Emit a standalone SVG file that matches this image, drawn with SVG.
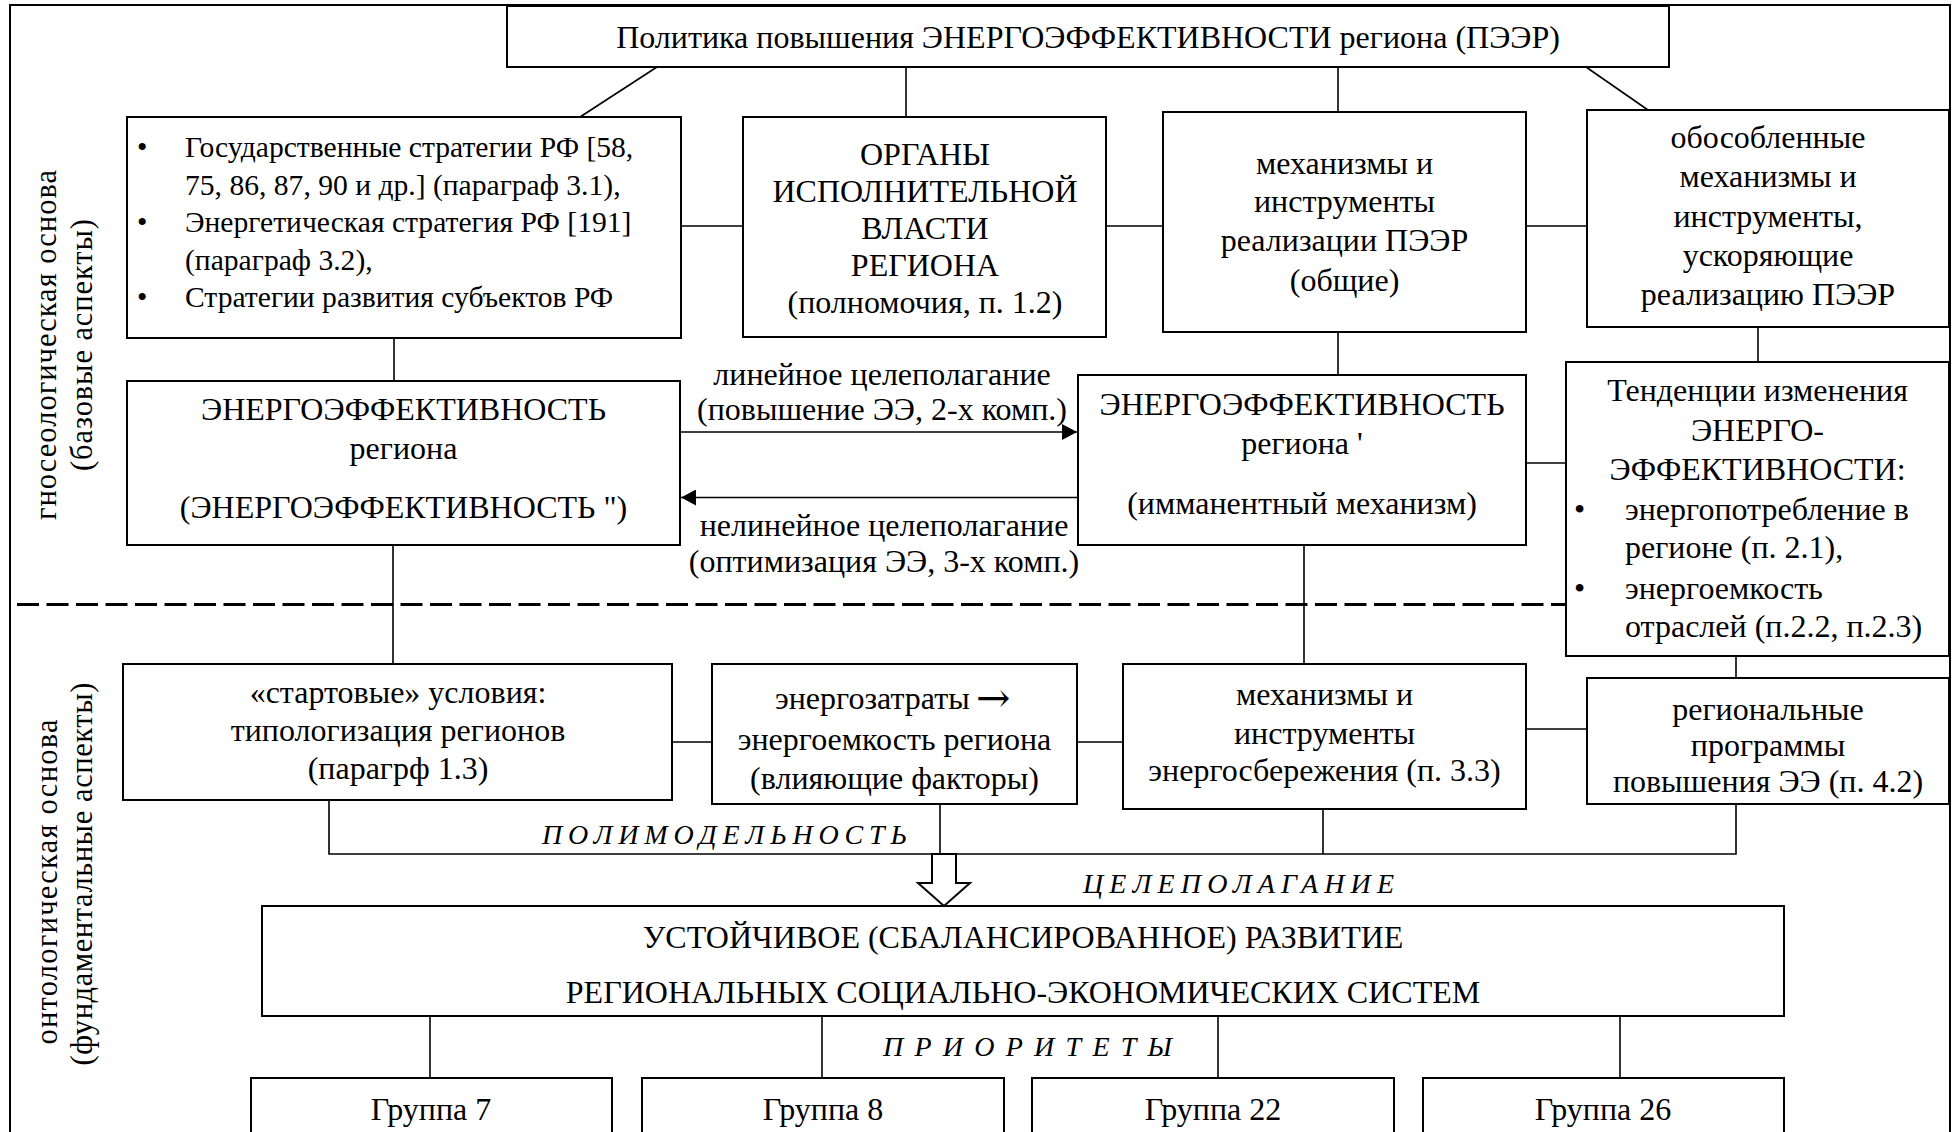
<svg xmlns="http://www.w3.org/2000/svg" width="1955" height="1132" viewBox="0 0 1955 1132">
<defs>
<style>
.b{fill:#fff;stroke:#000;stroke-width:2}
.c{stroke:#000;stroke-width:1.6;fill:none}
.t{font-family:"Liberation Serif","Times New Roman",serif;font-size:32px;fill:#000}
.s{font-size:29.6px}
.m{text-anchor:middle}
.i{font-style:italic;font-size:28px}
.r{font-size:30.5px}
.a{font-family:"DejaVu Serif","Liberation Serif",serif;font-size:41px;fill:#000}
</style>
<marker id="ah" markerUnits="userSpaceOnUse" markerWidth="16" markerHeight="16" refX="15" refY="8" orient="auto">
<path d="M0,0 L15,8 L0,16 z" fill="#000"/>
</marker>
</defs>
<rect x="0" y="0" width="1955" height="1132" fill="#fff"/>
<rect id="frame" x="10" y="5" width="1940" height="1160" fill="none" stroke="#000" stroke-width="2"/>

<g id="connectors">
<line class="c" x1="657" y1="67" x2="580" y2="117"/>
<line class="c" x1="906" y1="67" x2="906" y2="117"/>
<line class="c" x1="1338" y1="67" x2="1338" y2="112"/>
<line class="c" x1="1586" y1="67" x2="1648" y2="110"/>
<line class="c" x1="681" y1="226" x2="743" y2="226"/>
<line class="c" x1="1106" y1="226" x2="1163" y2="226"/>
<line class="c" x1="1526" y1="226" x2="1587" y2="226"/>
<line class="c" x1="394" y1="338" x2="394" y2="381"/>
<line class="c" x1="1338" y1="332" x2="1338" y2="375"/>
<line class="c" x1="1758" y1="327" x2="1758" y2="362"/>
<line class="c" x1="1526" y1="463" x2="1566" y2="463"/>
<line class="c" x1="680" y1="432" x2="1077" y2="432" marker-end="url(#ah)"/>
<line class="c" x1="1078" y1="497.5" x2="681" y2="497.5" marker-end="url(#ah)"/>
<line class="c" x1="393" y1="545" x2="393" y2="664"/>
<line class="c" x1="1304" y1="545" x2="1304" y2="664"/>
<line x1="17" y1="604.5" x2="1566" y2="604.5" stroke="#000" stroke-width="3" stroke-dasharray="22 7.5"/>
<line class="c" x1="672" y1="742" x2="712" y2="742"/>
<line class="c" x1="1077" y1="742" x2="1123" y2="742"/>
<line class="c" x1="1526" y1="729" x2="1587" y2="729"/>
<line class="c" x1="1736" y1="656" x2="1736" y2="678"/>
<polyline class="c" points="329,800 329,854 1736,854 1736,804"/>
<line class="c" x1="940" y1="804" x2="940" y2="854"/>
<line class="c" x1="1323" y1="809" x2="1323" y2="854"/>
<polygon points="932,854 956,854 956,883 970,883 944,906 918,883 932,883" fill="#fff" stroke="#000" stroke-width="2"/>
<line class="c" x1="430" y1="1016" x2="430" y2="1078"/>
<line class="c" x1="822" y1="1016" x2="822" y2="1078"/>
<line class="c" x1="1218" y1="1016" x2="1218" y2="1078"/>
<line class="c" x1="1620" y1="1016" x2="1620" y2="1078"/>
</g>

<g id="side-labels" class="t r m">
<text transform="translate(56,345) rotate(-90)" textLength="350" lengthAdjust="spacing">гносеологическая основа</text>
<text transform="translate(92,345) rotate(-90)" textLength="252" lengthAdjust="spacing">(базовые аспекты)</text>
<text transform="translate(57,882) rotate(-90)" textLength="325" lengthAdjust="spacing">онтологическая основа</text>
<text transform="translate(92,874) rotate(-90)" textLength="383" lengthAdjust="spacing">(фундаментальные аспекты)</text>
</g>

<g id="n-policy">
<rect class="b" x="507" y="6" width="1162" height="61"/>
<text class="t m" x="1088" y="48">Политика повышения ЭНЕРГОЭФФЕКТИВНОСТИ региона (ПЭЭР)</text>
</g>

<g id="n-strategies">
<rect class="b" x="127" y="117" width="554" height="221"/>
<g class="t s">
<text x="137" y="157">•</text>
<text x="185" y="157">Государственные стратегии РФ [58,</text>
<text x="185" y="194.5">75, 86, 87, 90 и др.] (параграф 3.1),</text>
<text x="137" y="232">•</text>
<text x="185" y="232">Энергетическая стратегия РФ [191]</text>
<text x="185" y="269.5">(параграф 3.2),</text>
<text x="137" y="307">•</text>
<text x="185" y="307">Стратегии развития субъектов РФ</text>
</g>
</g>

<g id="n-organs">
<rect class="b" x="743" y="117" width="363" height="220"/>
<g class="t m">
<text x="925" y="165">ОРГАНЫ</text>
<text x="925" y="201.5">ИСПОЛНИТЕЛЬНОЙ</text>
<text x="925" y="238.5">ВЛАСТИ</text>
<text x="925" y="276">РЕГИОНА</text>
<text x="925" y="313">(полномочия, п. 1.2)</text>
</g>
</g>

<g id="n-mech-general">
<rect class="b" x="1163" y="112" width="363" height="220"/>
<g class="t m">
<text x="1344.5" y="174">механизмы и</text>
<text x="1344.5" y="212">инструменты</text>
<text x="1344.5" y="251">реализации ПЭЭР</text>
<text x="1344.5" y="291">(общие)</text>
</g>
</g>

<g id="n-mech-separate">
<rect class="b" x="1587" y="110" width="362" height="217"/>
<g class="t m">
<text x="1768" y="148">обособленные</text>
<text x="1768" y="187">механизмы и</text>
<text x="1768" y="227">инструменты,</text>
<text x="1768" y="266">ускоряющие</text>
<text x="1768" y="305">реализацию ПЭЭР</text>
</g>
</g>

<g id="n-ee2">
<rect class="b" x="127" y="381" width="553" height="164"/>
<g class="t m">
<text x="403.5" y="420">ЭНЕРГОЭФФЕКТИВНОСТЬ</text>
<text x="403.5" y="459">региона</text>
<text x="403.5" y="518">(ЭНЕРГОЭФФЕКТИВНОСТЬ ")</text>
</g>
</g>

<g id="arrow-labels" class="t m">
<text x="882" y="385">линейное целеполагание</text>
<text x="882" y="420">(повышение ЭЭ, 2-х комп.)</text>
<text x="884" y="536">нелинейное целеполагание</text>
<text x="884" y="572">(оптимизация ЭЭ, 3-х комп.)</text>
</g>

<g id="n-ee1">
<rect class="b" x="1078" y="375" width="448" height="170"/>
<g class="t m">
<text x="1302" y="415">ЭНЕРГОЭФФЕКТИВНОСТЬ</text>
<text x="1302" y="454">региона '</text>
<text x="1302" y="514">(имманентный механизм)</text>
</g>
</g>

<g id="n-trends">
<rect class="b" x="1566" y="362" width="383" height="294"/>
<g class="t">
<text class="m" x="1757.5" y="401">Тенденции изменения</text>
<text class="m" x="1757.5" y="441">ЭНЕРГО-</text>
<text class="m" x="1757.5" y="480">ЭФФЕКТИВНОСТИ:</text>
<text x="1574" y="520">•</text>
<text x="1625" y="520">энергопотребление в</text>
<text x="1625" y="558">регионе (п. 2.1),</text>
<text x="1574" y="599">•</text>
<text x="1625" y="599">энергоемкость</text>
<text x="1625" y="637">отраслей (п.2.2, п.2.3)</text>
</g>
</g>

<g id="n-start">
<rect class="b" x="123" y="664" width="549" height="136"/>
<g class="t m">
<text x="398" y="703">«стартовые» условия:</text>
<text x="398" y="741">типологизация регионов</text>
<text x="398" y="779">(парагрф 1.3)</text>
</g>
</g>

<g id="n-energy-costs">
<rect class="b" x="712" y="664" width="365" height="140"/>
<g class="t">
<text x="775" y="709">энергозатраты</text>
<text class="a" x="976" y="712">→</text>
<text class="m" x="894.5" y="750">энергоемкость региона</text>
<text class="m" x="894.5" y="789">(влияющие факторы)</text>
</g>
</g>

<g id="n-saving">
<rect class="b" x="1123" y="664" width="403" height="145"/>
<g class="t m">
<text x="1324.5" y="705">механизмы и</text>
<text x="1324.5" y="744">инструменты</text>
<text x="1324.5" y="781">энергосбережения (п. 3.3)</text>
</g>
</g>

<g id="n-programs">
<rect class="b" x="1587" y="678" width="362" height="126"/>
<g class="t m">
<text x="1768" y="720">региональные</text>
<text x="1768" y="756">программы</text>
<text x="1768" y="792">повышения ЭЭ (п. 4.2)</text>
</g>
</g>

<g id="italic-labels" class="t i">
<text x="542" y="844" textLength="365" lengthAdjust="spacing">ПОЛИМОДЕЛЬНОСТЬ</text>
<text x="1083" y="893" textLength="311" lengthAdjust="spacing">ЦЕЛЕПОЛАГАНИЕ</text>
<text x="883" y="1056" textLength="289" lengthAdjust="spacing">ПРИОРИТЕТЫ</text>
</g>

<g id="n-sustainable">
<rect class="b" x="262" y="906" width="1522" height="110"/>
<g class="t m">
<text x="1023" y="948">УСТОЙЧИВОЕ (СБАЛАНСИРОВАННОЕ) РАЗВИТИЕ</text>
<text x="1023" y="1003">РЕГИОНАЛЬНЫХ СОЦИАЛЬНО-ЭКОНОМИЧЕСКИХ СИСТЕМ</text>
</g>
</g>

<g id="n-g7">
<rect class="b" x="251" y="1078" width="361" height="80"/>
<text class="t m" x="431" y="1120">Группа 7</text>
</g>
<g id="n-g8">
<rect class="b" x="642" y="1078" width="362" height="80"/>
<text class="t m" x="823" y="1120">Группа 8</text>
</g>
<g id="n-g22">
<rect class="b" x="1032" y="1078" width="362" height="80"/>
<text class="t m" x="1213" y="1120">Группа 22</text>
</g>
<g id="n-g26">
<rect class="b" x="1423" y="1078" width="361" height="80"/>
<text class="t m" x="1603" y="1120">Группа 26</text>
</g>
</svg>
